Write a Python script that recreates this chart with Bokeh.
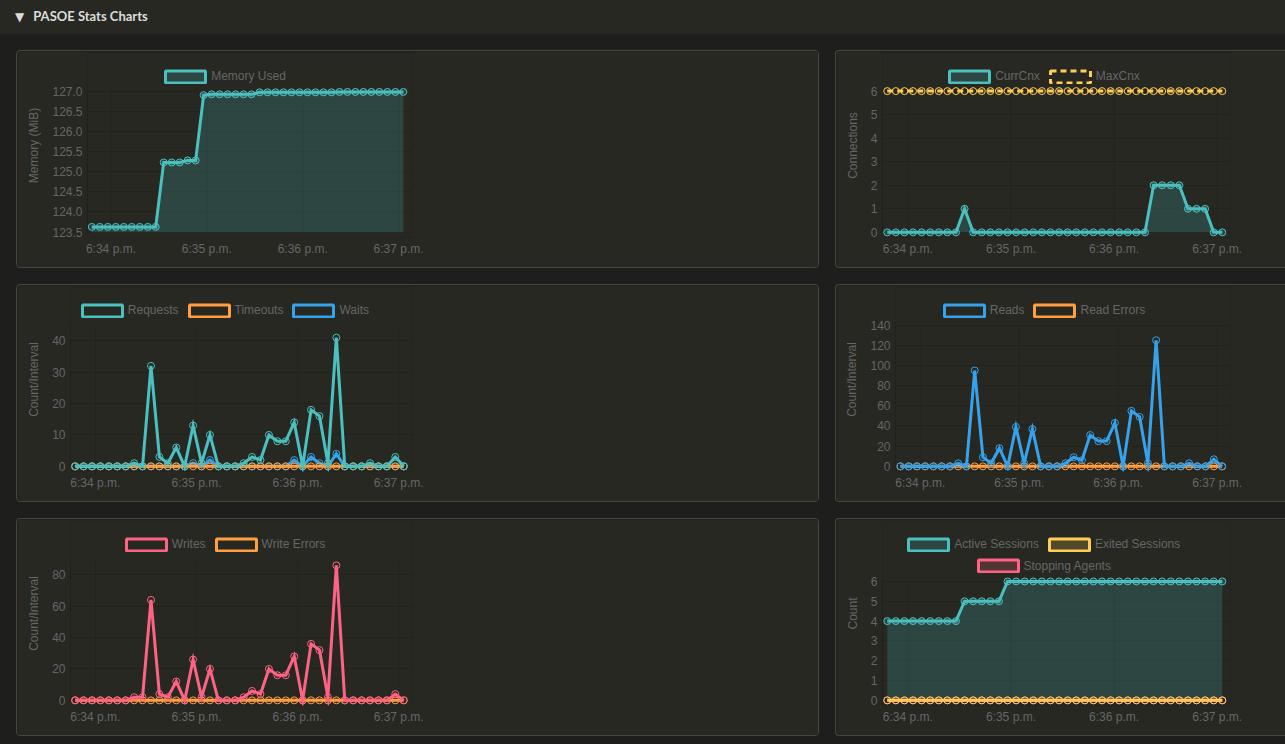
from bokeh.plotting import figure
from bokeh.models import Range1d, FixedTicker, NumeralTickFormatter, Legend, LegendItem, Div
from bokeh.layouts import column, row
from bokeh.embed import file_html
from bokeh.resources import INLINE

# ---------------- data ----------------
times = ["18:33:48", "18:33:53", "18:33:58", "18:34:03", "18:34:08", "18:34:13", "18:34:18", "18:34:23",
         "18:34:28", "18:34:33", "18:34:38", "18:34:43", "18:34:48", "18:34:53", "18:34:58", "18:35:03",
         "18:35:08", "18:35:13", "18:35:18", "18:35:23", "18:35:28", "18:35:33", "18:35:38", "18:35:43",
         "18:35:48", "18:35:53", "18:35:58", "18:36:03", "18:36:08", "18:36:13", "18:36:18", "18:36:23",
         "18:36:28", "18:36:33", "18:36:38", "18:36:43", "18:36:48", "18:36:53", "18:36:58", "18:37:03"]
x_window = ["18:33:45", "18:37:04.5"]
tick_times = ["18:34:00", "18:35:00", "18:36:00", "18:37:00"]
tick_labels = ["6:34 p.m.", "6:35 p.m.", "6:36 p.m.", "6:37 p.m."]

memory_used = [123.63, 123.63, 123.63, 123.63, 123.63, 123.63, 123.63, 123.63, 123.63, 125.23,
               125.23, 125.23, 125.28, 125.28, 126.90, 126.92, 126.92, 126.92, 126.92, 126.92,
               126.92, 126.97, 126.97, 126.97, 126.97, 126.97, 126.97, 126.97, 126.97, 126.97,
               126.97, 126.98, 126.98, 126.98, 126.98, 126.98, 126.98, 126.98, 126.98, 126.98]
curr_cnx = [0, 0, 0, 0, 0, 0, 0, 0, 0, 1, 0, 0, 0, 0, 0, 0, 0, 0, 0, 0,
            0, 0, 0, 0, 0, 0, 0, 0, 0, 0, 0, 2, 2, 2, 2, 1, 1, 1, 0, 0]
max_cnx = [6, 6, 6, 6, 6, 6, 6, 6, 6, 6, 6, 6, 6, 6, 6, 6, 6, 6, 6, 6,
           6, 6, 6, 6, 6, 6, 6, 6, 6, 6, 6, 6, 6, 6, 6, 6, 6, 6, 6, 6]
requests = [0, 0, 0, 0, 0, 0, 0, 1, 0, 32, 3, 1, 6, 0, 13, 1, 10, 0, 0, 0,
            1, 3, 2, 10, 8, 8, 14, 0, 18, 16, 1, 41, 0, 0, 0, 1, 0, 0, 3, 0]
timeouts = [0, 0, 0, 0, 0, 0, 0, 0, 0, 0, 0, 0, 0, 0, 0, 0, 0, 0, 0, 0,
            0, 0, 0, 0, 0, 0, 0, 0, 0, 0, 0, 0, 0, 0, 0, 0, 0, 0, 0, 0]
waits = [0, 0, 0, 0, 0, 0, 0, 0, 0, 0, 0, 0, 0, 0, 1, 0, 2, 0, 0, 0,
         0, 0, 0, 0, 0, 0, 2, 0, 3, 1, 0, 4, 0, 0, 0, 0, 0, 0, 0, 0]
reads = [0, 0, 0, 0, 0, 0, 0, 3, 0, 95, 9, 3, 18, 0, 39, 3, 37, 0, 0, 0,
         3, 9, 6, 31, 25, 25, 43, 0, 55, 49, 3, 125, 0, 0, 0, 3, 0, 0, 7, 0]
read_errors = [0, 0, 0, 0, 0, 0, 0, 0, 0, 0, 0, 0, 0, 0, 0, 0, 0, 0, 0, 0,
               0, 0, 0, 0, 0, 0, 0, 0, 0, 0, 0, 0, 0, 0, 0, 0, 0, 0, 0, 0]
writes = [0, 0, 0, 0, 0, 0, 0, 2, 2, 64, 4, 2, 12, 0, 26, 2, 20, 0, 0, 0,
          2, 6, 4, 20, 16, 16, 28, 0, 36, 32, 2, 86, 0, 0, 0, 0, 0, 0, 4, 0]
write_errors = [0, 0, 0, 0, 0, 0, 0, 0, 0, 0, 0, 0, 0, 0, 0, 0, 0, 0, 0, 0,
                0, 0, 0, 0, 0, 0, 0, 0, 0, 0, 0, 0, 0, 0, 0, 0, 0, 0, 0, 0]
active_sessions = [4, 4, 4, 4, 4, 4, 4, 4, 4, 5, 5, 5, 5, 5, 6, 6, 6, 6, 6, 6,
                   6, 6, 6, 6, 6, 6, 6, 6, 6, 6, 6, 6, 6, 6, 6, 6, 6, 6, 6, 6]
exited_sessions = [0, 0, 0, 0, 0, 0, 0, 0, 0, 0, 0, 0, 0, 0, 0, 0, 0, 0, 0, 0,
                   0, 0, 0, 0, 0, 0, 0, 0, 0, 0, 0, 0, 0, 0, 0, 0, 0, 0, 0, 0]
stopping_agents = [0, 0, 0, 0, 0, 0, 0, 0, 0, 0, 0, 0, 0, 0, 0, 0, 0, 0, 0, 0,
                   0, 0, 0, 0, 0, 0, 0, 0, 0, 0, 0, 0, 0, 0, 0, 0, 0, 0, 0, 0]

mem_axis = [123.5, 127.0]
mem_ticks = [123.5, 124.0, 124.5, 125.0, 125.5, 126.0, 126.5, 127.0]
cnx_axis = [0, 6]
cnx_ticks = [0, 1, 2, 3, 4, 5, 6]
req_axis = [0, 45]
req_ticks = [0, 10, 20, 30, 40]
read_axis = [0, 140]
read_ticks = [0, 20, 40, 60, 80, 100, 120, 140]
write_axis = [0, 90]
write_ticks = [0, 20, 40, 60, 80]
sess_axis = [0, 6]
sess_ticks = [0, 1, 2, 3, 4, 5, 6]

# ---------------- style ----------------
PAGE_BG = "#1e1f1c"
HEADER_BG = "#272822"
PANEL_BG = "#272822"
BORDER = "#47463d"
TEXT = "#666666"
FONT = "Liberation Sans"
TEAL = "#4bc0c0"
ORANGE = "#ff9f40"
BLUE = "#36a2eb"
PINK = "#ff6384"
YELLOW = "#ffcd56"

PH = 218   # panel outer height (incl. 1px borders)
CH = 216   # drawing height inside the borders
LEG_H = 15
NAN = float("nan")


def to_s(t):
    h, m, s = t.split(":")
    return int(h) * 3600 + int(m) * 60 + float(s)


xs = [to_s(t) for t in times]
X0, X1 = to_s(x_window[0]), to_s(x_window[1])
tick_x = [to_s(t) for t in tick_times]


def chart(outer_w, cw, origin, geom, yrng, yticks, yfmt, ylabel, series, legend_rows, styles):
    px0, py0 = origin
    fl, fr, ft, fb = geom
    y0, y1 = yrng
    L = round(fl)
    R = round(fr + 6)
    T = 2                      # frame reaches up to hold the legend (annotations are clipped to it)
    B = round(fb + 5)
    pps = (fr - fl) / (X1 - X0)
    ppu = (fb - ft) / (y1 - y0)
    xr = Range1d(X0 + (L - fl) / pps, X0 + (R - fl) / pps)
    yr = Range1d(y0 - (B - fb) / ppu, y0 + (fb - T) / ppu)
    p = figure(width=outer_w, height=PH, x_range=xr, y_range=yr, output_backend="svg",
               toolbar_location=None, min_border_left=L, min_border_right=cw - R,
               min_border_top=T, min_border_bottom=CH - B,
               background_fill_color=PANEL_BG, border_fill_color=PANEL_BG,
               outline_line_color=None, styles=styles)

    # axes
    p.xaxis.ticker = FixedTicker(ticks=tick_x)
    p.xaxis.major_label_overrides = {tx: lab for tx, lab in zip(tick_x, tick_labels)}
    p.xaxis.axis_line_color = None
    p.yaxis.ticker = FixedTicker(ticks=yticks)
    p.yaxis.formatter = NumeralTickFormatter(format=yfmt)
    p.yaxis.axis_label = ylabel
    p.yaxis.axis_label_standoff = 8
    p.yaxis.axis_label_text_font_style = "normal"
    p.yaxis.axis_label_text_font = FONT
    p.yaxis.axis_label_text_font_size = "12px"
    p.yaxis.axis_label_text_color = TEXT
    p.yaxis.axis_line_color = "black"
    p.yaxis.axis_line_alpha = 0.1
    p.yaxis.bounds = (y0, y1)
    for ax in (p.xaxis, p.yaxis):
        ax.major_tick_out = 0
        ax.major_tick_in = 0
        ax.minor_tick_out = 0
        ax.minor_tick_in = 0
        ax.major_label_text_font = FONT
        ax.major_label_text_font_size = "12px"
        ax.major_label_text_color = TEXT
        ax.major_label_standoff = 5
    p.xaxis.major_label_standoff = 4
    p.ygrid.grid_line_color = "black"
    p.ygrid.grid_line_alpha = 0.1
    p.xgrid.visible = False
    # vertical grid lines at the minute ticks, limited to the value axis extent
    p.segment(x0=tick_x, x1=tick_x, y0=[y0] * len(tick_x), y1=[y1] * len(tick_x),
              line_color="black", line_alpha=0.1, line_width=1)

    # fills
    for s in series:
        if s["area"]:
            p.varea(x=xs, y1=y0, y2=s["values"], fill_color=s["color"], fill_alpha=0.2)
    # lines and points (first dataset drawn on top)
    for s in reversed(series):
        p.line(xs, s["values"], line_color=s["color"], line_width=3, line_join="miter",
               line_dash=s["dash"])
        p.scatter(xs, s["values"], size=7, line_color=s["color"], line_width=1,
                  fill_color=s["color"], fill_alpha=s["pt_alpha"])

    # legends (Chart.js style boxes) above the plotted values
    for names, (bx, cy) in legend_rows:
        items = []
        for nm in names:
            s = next(q for q in series if q["label"] == nm)
            # legend-only swatch renderer (a single undefined row, nothing is drawn on the plot)
            r = p.quad(left=[NAN], right=[NAN], top=[NAN], bottom=[NAN], fill_color=s["color"],
                       fill_alpha=s["box_alpha"], line_color=s["color"], line_width=3,
                       line_dash=s["dash"])
            items.append(LegendItem(label=nm, renderers=[r]))
        bxc = bx - px0 - 1
        cyc = cy - py0 - 1 - 1
        lx = bxc - 3.5 - L
        bottom = cyc - 7.5 + LEG_H
        vy = B - bottom
        leg = Legend(items=items, location=(lx, vy), orientation="horizontal",
                     glyph_width=50, glyph_height=LEG_H, label_height=LEG_H, label_standoff=1,
                     spacing=5, padding=0, margin=0, background_fill_alpha=0,
                     border_line_alpha=0, label_text_font=FONT, label_text_font_size="12px",
                     label_text_color=TEXT)
        p.add_layout(leg)
    return p


def ser(label, values, color, area=False, dash="solid", box_alpha=0.0, pt_alpha=0.0):
    return dict(label=label, values=values, color=color, area=area, dash=dash,
                box_alpha=box_alpha, pt_alpha=pt_alpha)


left_styles = {"border": "1px solid " + BORDER, "border-radius": "4px", "overflow": "hidden"}
right_styles = {"border": "1px solid " + BORDER, "border-right": "none",
                "border-radius": "4px 0 0 4px", "overflow": "hidden"}
LOW, LCW = 803, 801   # left panels: outer width, drawing width
ROW_, RCW = 450, 449  # right panels: outer width (to window edge), drawing width

pA = chart(LOW, LCW, (16, 50), (69.5, 386.3, 39.2, 178.7), mem_axis, mem_ticks, "0.0", "Memory (MiB)",
           [ser("Memory Used", memory_used, TEAL, area=True, box_alpha=0.2, pt_alpha=0.2)],
           [(["Memory Used"], (163.7, 75))], left_styles)
pB = chart(ROW_, RCW, (835, 50), (45.6, 387.4, 39.2, 178.9), cnx_axis, cnx_ticks, "0", "Connections",
           [ser("CurrCnx", curr_cnx, TEAL, area=True, box_alpha=0.2, pt_alpha=0.2),
            ser("MaxCnx", max_cnx, YELLOW, dash="6 4")],
           [(["CurrCnx", "MaxCnx"], (947.7, 75))], right_styles)
pC = chart(LOW, LCW, (16, 284), (52.6, 386.8, 39.2, 178.9), req_axis, req_ticks, "0", "Count/Interval",
           [ser("Requests", requests, TEAL), ser("Timeouts", timeouts, ORANGE),
            ser("Waits", waits, BLUE)],
           [(["Requests", "Timeouts", "Waits"], (80.3, 309))], left_styles)
pD = chart(ROW_, RCW, (835, 284), (59.0, 387.1, 39.2, 178.9), read_axis, read_ticks, "0", "Count/Interval",
           [ser("Reads", reads, BLUE), ser("Read Errors", read_errors, ORANGE)],
           [(["Reads", "Read Errors"], (942.3, 309))], right_styles)
pE = chart(LOW, LCW, (16, 518), (52.6, 386.8, 39.2, 178.9), write_axis, write_ticks, "0", "Count/Interval",
           [ser("Writes", writes, PINK), ser("Write Errors", write_errors, ORANGE)],
           [(["Writes", "Write Errors"], (124.3, 543))], left_styles)
pF = chart(ROW_, RCW, (835, 518), (45.6, 387.4, 61.3, 178.9), sess_axis, sess_ticks, "0", "Count",
           [ser("Active Sessions", active_sessions, TEAL, area=True, box_alpha=0.2, pt_alpha=0.2),
            ser("Exited Sessions", exited_sessions, YELLOW, box_alpha=0.2),
            ser("Stopping Agents", stopping_agents, PINK, box_alpha=0.2)],
           [(["Active Sessions", "Exited Sessions"], (906.7, 543)),
            (["Stopping Agents"], (976.0, 564.7))], right_styles)

header = Div(
    text=('<div style="padding-left:15px;line-height:33px;font-family:Lato, sans-serif;'
          'font-weight:bold;font-size:13px;color:#dcdcdc;white-space:nowrap;">'
          '<span style="font-family:\'DejaVu Sans\';font-size:12px;">&#9660;</span>'
          '<span style="margin-left:9px;">PASOE Stats Charts</span></div>'),
    width=1285, height=34, margin=0, styles={"background-color": HEADER_BG})

row1 = row(pA, pB, spacing=16, margin=(0, 0, 0, 16))
row2 = row(pC, pD, spacing=16, margin=(0, 0, 0, 16))
row3 = row(pE, pF, spacing=16, margin=(0, 0, 0, 16))
root = column(header, row1, row2, row3, spacing=16,
              styles={"background-color": PAGE_BG})

TEMPLATE = ("{% block preamble %}<style>html, body { margin: 0 !important; padding: 0 !important; "
            "background-color: #1e1f1c; overflow: hidden; }</style>{% endblock %}")

open("out.html", "w").write(file_html(root, INLINE, "PASOE Stats Charts", template=TEMPLATE))
